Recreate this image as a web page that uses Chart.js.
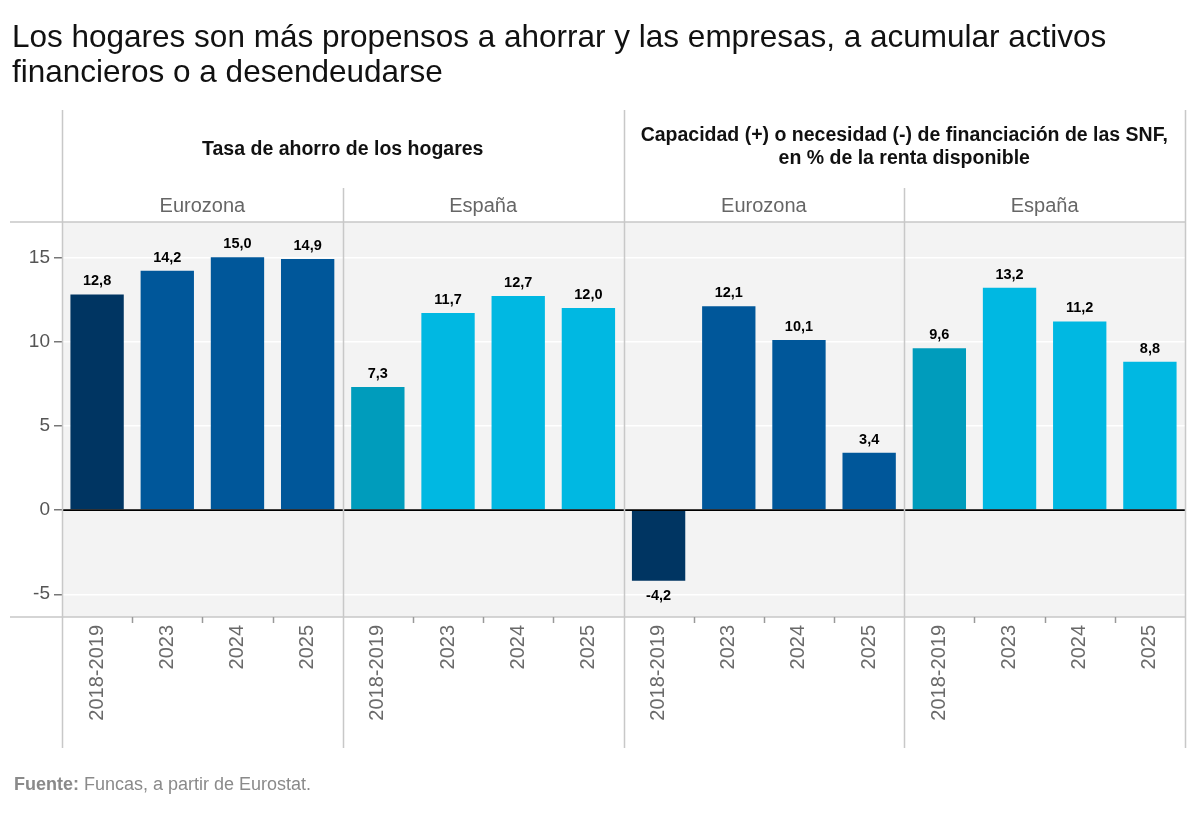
<!DOCTYPE html>
<html>
<head>
<meta charset="utf-8">
<script src="https://cdn.jsdelivr.net/npm/chart.js@4.4.1/dist/chart.umd.min.js"></script>
<style>
  html, body { margin: 0; padding: 0; background: #ffffff; width: 1200px; height: 818px; overflow: hidden; }
  #wrap { position: relative; width: 1200px; height: 818px; }
  #chart { position: absolute; left: 0; top: 0; }
  #title { position: absolute; left: 12px; top: 19px; font-family: "Liberation Sans", Arial, sans-serif; font-size: 31.5px; line-height: 35px; color: #111; }
  #source { position: absolute; left: 14px; top: 774px; font-family: "Liberation Sans", Arial, sans-serif; font-size: 18px; color: #8a8a8a; }
  #source b { color: #8a8a8a; }
</style>
</head>
<body>
<div id="wrap">
  <canvas id="chart" width="1200" height="818"></canvas>
  <div id="title">Los hogares son más propensos a ahorrar y las empresas, a acumular activos<br>financieros o a desendeudarse</div>
  <div id="source"><b>Fuente:</b> Funcas, a partir de Eurostat.</div>
</div>
<script>
// ---- Data ----
const categories = ['2018-2019', '2023', '2024', '2025'];
const groups = ['Eurozona', 'España', 'Eurozona', 'España'];
const panelTitleHogares = ['Tasa de ahorro de los hogares'];
const panelTitleSNF = ['Capacidad (+) o necesidad (-) de financiación de las SNF,', 'en % de la renta disponible'];
const hogaresEurozona = [12.8, 14.2, 15.0, 14.9];
const hogaresEspana = [7.3, 11.7, 12.7, 12.0];
const snfEurozona = [-4.2, 12.1, 10.1, 3.4];
const snfEspana = [9.6, 13.2, 11.2, 8.8];
const yTickValues = [-5, 0, 5, 10, 15];

// ---- Build table ----
const seriesByGroup = [hogaresEurozona, hogaresEspana, snfEurozona, snfEspana];
const labels = [];
const values = [];
seriesByGroup.forEach(s => { categories.forEach((c, i) => { labels.push(c); values.push(s[i]); }); });

// styles
const NAVY = '#003562', BLUE = '#00579a', TEAL = '#009cbc', CYAN = '#00b8e2';
const groupColors = [[NAVY, BLUE, BLUE, BLUE], [TEAL, CYAN, CYAN, CYAN], [NAVY, BLUE, BLUE, BLUE], [TEAL, CYAN, CYAN, CYAN]];
const barColors = [];
groupColors.forEach(g => g.forEach(c => barColors.push(c)));

const FONT = '"Liberation Sans", Arial, sans-serif';
const LINE = '#c8c8c8';

function fmt(v) { return v.toFixed(1).replace('.', ','); }

const decor = {
  id: 'decor',
  beforeDraw(chart) {
    const { ctx, chartArea: a } = chart;
    ctx.save();
    ctx.fillStyle = '#f3f3f3';
    ctx.fillRect(a.left, a.top, a.right - a.left, a.bottom - a.top);
    ctx.restore();
  },
  afterDatasetsDraw(chart) {
    const { ctx, chartArea: a, scales } = chart;
    const x = scales.x, y = scales.y;
    const n = labels.length;
    const bnd = i => {
      if (i <= 0) return a.left;
      if (i >= n) return a.right;
      return (x.getPixelForValue(i - 1) + x.getPixelForValue(i)) / 2;
    };
    ctx.save();
    // zero line
    const y0 = y.getPixelForValue(0);
    ctx.strokeStyle = '#000';
    ctx.lineWidth = 1.8;
    ctx.beginPath(); ctx.moveTo(a.left, y0); ctx.lineTo(a.right, y0); ctx.stroke();

    // frame lines
    ctx.strokeStyle = LINE;
    ctx.lineWidth = 1.5;
    ctx.beginPath();
    ctx.moveTo(10, a.top); ctx.lineTo(a.right, a.top);
    ctx.moveTo(10, a.bottom); ctx.lineTo(a.right, a.bottom);
    ctx.stroke();
    // panel verticals
    for (let g = 0; g <= groups.length; g++) {
      const px = Math.round(bnd(g * categories.length)) + 0.5;
      const top = (g % 2 === 0) ? 110 : 188;
      ctx.beginPath(); ctx.moveTo(px, top); ctx.lineTo(px, 748); ctx.stroke();
    }
    // small category ticks at bottom
    ctx.lineWidth = 1.5;
    ctx.strokeStyle = '#999';
    for (let i = 1; i < n; i++) {
      if (i % categories.length === 0) continue;
      const px = Math.round(bnd(i)) + 0.5;
      ctx.beginPath(); ctx.moveTo(px, a.bottom); ctx.lineTo(px, a.bottom + 6); ctx.stroke();
    }

    // data labels
    ctx.fillStyle = '#000';
    ctx.font = 'bold 14.5px ' + FONT;
    ctx.textAlign = 'center';
    ctx.textBaseline = 'middle';
    const meta = chart.getDatasetMeta(0);
    meta.data.forEach((bar, i) => {
      const v = values[i];
      const yy = v >= 0 ? bar.y - 13 : bar.y + 15;
      ctx.fillText(fmt(v), bar.x, yy);
    });

    // headers
    const half = groups.length / 2 * categories.length;
    const c1 = (bnd(0) + bnd(half)) / 2;
    const c2 = (bnd(half) + bnd(n)) / 2;
    ctx.font = 'bold 19.5px ' + FONT;
    ctx.fillStyle = '#111';
    ctx.fillText(panelTitleHogares[0], c1, 150);
    ctx.fillText(panelTitleSNF[0], c2, 136);
    ctx.fillText(panelTitleSNF[1], c2, 159);
    ctx.font = '20px ' + FONT;
    ctx.fillStyle = '#666';
    groups.forEach((gname, g) => {
      const cx = (bnd(g * categories.length) + bnd((g + 1) * categories.length)) / 2;
      ctx.fillText(gname, cx, 206);
    });
    ctx.restore();
  }
};

new Chart(document.getElementById('chart'), {
  type: 'bar',
  data: {
    labels: labels,
    datasets: [{
      data: values,
      backgroundColor: barColors,
      borderWidth: 0,
      barPercentage: 0.76,
      categoryPercentage: 1.0
    }]
  },
  options: {
    responsive: false,
    devicePixelRatio: 1,
    animation: false,
    layout: { padding: { top: 222, left: 0, right: 15, bottom: 70 } },
    plugins: { legend: { display: false }, tooltip: { enabled: false }, title: { display: false } },
    scales: {
      x: {
        grid: { display: false, drawTicks: false },
        border: { display: false },
        ticks: {
          autoSkip: false, minRotation: 90, maxRotation: 90, padding: 8,
          color: '#6a6a6a', font: { family: FONT, size: 20 }
        },
        afterFit(s) { s.height = 131; }
      },
      y: {
        min: -6.35, max: 17.1,
        afterBuildTicks(s) { s.ticks = yTickValues.map(v => ({ value: v })); },
        grid: {
          color: ctx => (ctx.tick && ctx.tick.value === 0) ? 'rgba(0,0,0,0)' : '#ffffff',
          lineWidth: 1.5,
          tickColor: '#777',
          tickLength: 8,
          drawTicks: true
        },
        border: { display: false },
        ticks: {
          padding: 4, color: '#555', font: { family: FONT, size: 19 },
          callback: v => String(v)
        },
        afterFit(s) { s.width = 62; }
      }
    }
  },
  plugins: [decor]
});
</script>
</body>
</html>
